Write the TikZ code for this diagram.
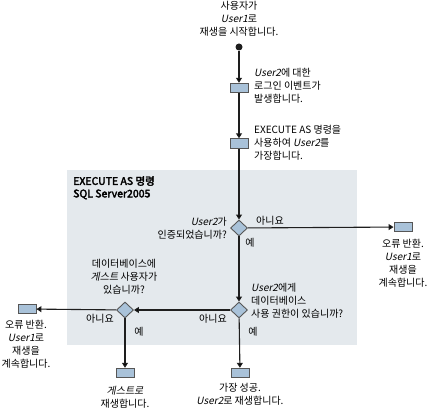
\documentclass[tikz,border=0pt]{standalone}
\usepackage{fontspec}
\setmainfont{Noto Sans CJK KR}[AutoFakeSlant=0.2,AutoFakeBold=3]
\usetikzlibrary{arrows.meta,shapes.geometric}
\definecolor{boxblue}{HTML}{A9C2D9}
\definecolor{panelgray}{HTML}{E4E9ED}
\definecolor{linegray}{HTML}{1E1E1E}
\tikzset{
  actbox/.style={draw=linegray!75, fill=boxblue, line width=0.9pt, minimum width=18pt, minimum height=9.5pt, inner sep=0pt},
  choice/.style={diamond, draw=linegray!75, fill=boxblue, line width=0.9pt, minimum width=17pt, minimum height=16pt, inner sep=0pt},
  txt/.style={font=\fontsize{10}{13}\selectfont, inner sep=0pt},
  flow/.style={-{Triangle[length=5pt,width=6pt]}, line width=1.1pt, draw=linegray},
}
\begin{document}
\begin{tikzpicture}[x=1pt,y=-1pt]
\useasboundingbox (0,0) rectangle (429,409);
\fill [panelgray] (67,170) rectangle (357,345);
\node [txt, anchor=north west, align=left, font=\fontsize{10.5}{12.5}\selectfont\bfseries] (t0) at (73,176) {EXECUTE AS 명령\\SQL Server2005};
%
\node [circle, fill=linegray, inner sep=0pt, minimum size=7pt] (v1) at (239,47) {};
\node [actbox] (v2) at (239,88) {};
\node [actbox] (v3) at (239,143.5) {};
\node [choice] (v4) at (239,228) {};
\node [actbox] (v5) at (403,227) {};
\node [choice] (v6) at (239,310) {};
\node [choice] (v7) at (125,310) {};
\node [actbox] (v8) at (27,309) {};
\node [actbox] (v9) at (125,373) {};
\node [actbox] (v10) at (240,373) {};
%
\node [txt, align=center] (t1) at (239,19) {사용자가\\\textit{User1}로\\재생을 시작합니다.};
\node [txt, align=left, anchor=west] (t2) at (254,86) {\textit{User2}에 대한\\로그인 이벤트가\\발생합니다.};
\node [txt, align=left, anchor=west] (t3) at (254,143) {EXECUTE AS 명령을\\사용하여 \textit{User2}를\\가장합니다.};
\node [txt, align=right, anchor=east] (t4) at (227,228) {\textit{User2}가\\인증되었습니까?};
\node [txt, align=left, anchor=west] (t5) at (251,301) {\textit{User2}에게\\데이터베이스\\사용 권한이 있습니까?};
\node [txt, align=center] (t6) at (124,277) {데이터베이스에\\\textit{게스트} 사용자가\\있습니까?};
\node [txt, align=center] (t7) at (403,263) {오류 반환.\\\textit{User1}로\\재생을\\계속합니다.};
\node [txt, align=center] (t8) at (26,344) {오류 반환.\\\textit{User1}로\\재생을\\계속합니다.};
\node [txt, align=center] (t9) at (125,397) {\textit{게스트로}\\재생합니다.};
\node [txt, align=center] (t10) at (240,394) {가장 성공.\\\textit{User2}로 재생합니다.};
%
\node [txt] (n1) at (270,221) {아니요};
\node [txt] (y1) at (250,243) {예};
\node [txt] (n2) at (213,319) {아니요};
\node [txt] (y2) at (253,332) {예};
\node [txt] (n3) at (100,319) {아니요};
\node [txt] (y3) at (139,332) {예};
%
\draw [flow] (v1) edge (v2);
\draw [flow] (v2) edge (v3);
\draw [flow] (v3) edge (v4);
\draw [flow] (v4) edge (v5);
\draw [flow] (v4) edge (v6);
\draw [flow] (v6) edge (v7);
\draw [flow] (v6) edge (v10);
\draw [flow] (v7) edge (v8);
\draw [flow] (v7) edge (v9);
\end{tikzpicture}
\end{document}
